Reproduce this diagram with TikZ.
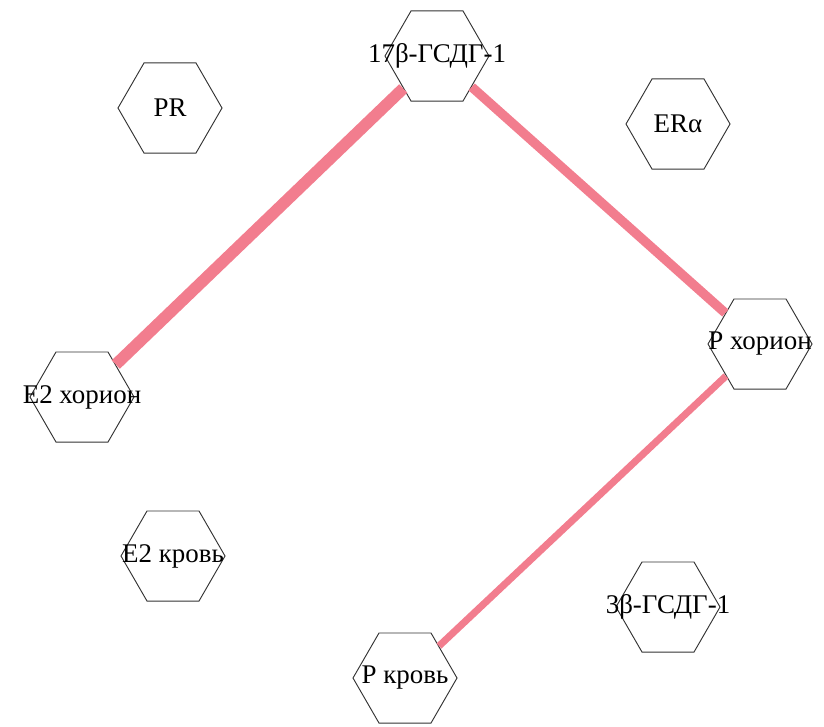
\documentclass[tikz,border=0pt]{standalone}
\usepackage{fontspec}
\setmainfont{Liberation Serif}
\usetikzlibrary{shapes.geometric}
\definecolor{linkpink}{RGB}{242,125,142}
\tikzset{
  gene/.style={regular polygon, regular polygon sides=6, draw=black!80,
               line width=0.8pt, minimum size=3.12cm, inner sep=0pt,
               label={center:#1}},
  link/.style={draw=linkpink, line cap=butt}
}
\begin{document}
\begin{tikzpicture}[x=0.03cm, y=-0.03cm, font=\fontsize{23}{27}\selectfont]
\useasboundingbox (0,0) rectangle (824,726);
\node[gene=PR]          (pr)    at (170,108) {};
\node[gene=17β-ГСДГ-1]  (hsd17) at (437,56)  {};
\node[gene=ERα]         (era)   at (678,124) {};
\node[gene=E2 хорион]   (e2ch)  at (82,397)  {};
\node[gene=P хорион]    (pch)   at (760,344) {};
\node[gene=E2 кровь]    (e2bl)  at (173,556) {};
\node[gene=3β-ГСДГ-1]   (hsd3)  at (668,607) {};
\node[gene=P кровь]     (pbl)   at (405,678) {};
% links
\draw[link, line width=10pt]  (e2ch) -- (hsd17);
\draw[link, line width=8pt]   (hsd17) -- (pch);
\draw[link, line width=6pt]   (pch) -- (pbl);
\end{tikzpicture}
\end{document}
